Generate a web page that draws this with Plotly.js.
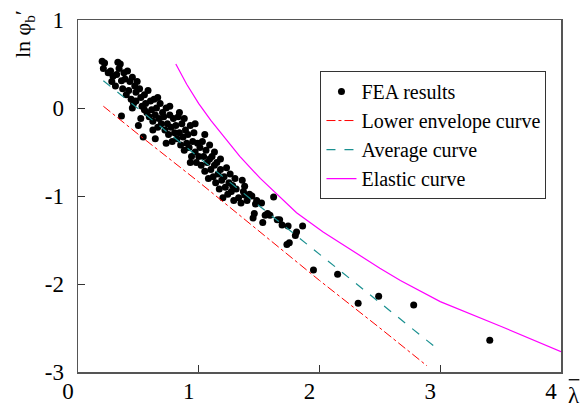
<!DOCTYPE html>
<html>
<head>
<meta charset="utf-8">
<script src="https://cdn.plot.ly/plotly-3.0.1.min.js"></script>
<style>html,body{margin:0;padding:0;background:#fff}#chart{width:587px;height:409px}</style>
</head>
<body>
<div id="chart"></div>
<script>
// FEA results (lambda-bar, ln phi'_b)
const feaLambda = [
 0.20,0.22,0.21,0.25,0.28,0.27,0.29,
 0.33,0.35,0.34,0.32,0.36,0.31,0.38,0.37,0.39,0.36,0.40,
 0.41,0.43,0.42,0.45,0.44,0.47,0.46,0.48,0.49,0.50,0.45,0.48,
 0.51,0.52,0.53,0.54,0.55,0.56,0.57,0.58,0.59,0.52,0.55,0.60,
 0.61,0.62,0.63,0.64,0.65,0.66,0.67,0.68,0.69,0.70,0.62,0.66,0.64,
 0.71,0.72,0.73,0.74,0.75,0.76,0.77,0.78,0.79,0.80,0.73,0.76,
 0.81,0.82,0.83,0.84,0.85,0.86,0.87,0.88,0.89,0.90,0.84,0.88,
 0.91,0.92,0.93,0.94,0.95,0.96,0.97,0.98,0.99,1.00,0.93,0.97,
 1.01,1.02,1.03,1.04,1.05,1.06,1.07,1.08,1.09,1.10,1.05,1.09,
 1.11,1.12,1.13,1.14,1.15,1.16,1.17,1.18,1.19,1.20,1.13,1.18,
 1.21,1.22,1.23,1.24,1.25,1.26,1.27,1.28,1.29,1.30,
 1.31,1.33,1.35,1.36,1.37,1.38,1.38,1.40,
 1.42,1.44,1.45,1.46,1.47,1.48,
 1.52,1.53,1.55,1.57,1.59,1.62,
 1.65,1.67,1.69,1.73,1.75,1.74,1.81,1.80,1.86,
 1.95,2.15,2.32,2.49,2.78,3.41
];
const feaLnPhi = [
 0.53,0.51,0.45,0.40,0.30,0.42,0.36,
 0.52,0.50,0.45,0.38,0.31,0.25,0.40,0.22,0.33,-0.09,0.15,
 0.42,0.30,0.20,0.35,0.10,0.25,0.05,0.18,0.30,-0.20,0.00,0.08,
 0.22,0.12,0.02,-0.33,0.15,0.05,-0.05,0.20,-0.10,-0.12,-0.02,0.08,
 -0.02,-0.15,0.10,-0.08,0.00,-0.22,-0.12,0.05,-0.18,-0.05,-0.25,0.12,-0.35,
 -0.10,-0.25,0.00,-0.18,-0.30,-0.08,-0.22,-0.38,-0.12,-0.28,-0.40,0.02,
 -0.20,-0.35,-0.10,-0.28,-0.42,-0.18,-0.33,-0.48,-0.25,-0.40,-0.05,-0.12,
 -0.30,-0.45,-0.20,-0.55,-0.38,-0.28,-0.50,-0.62,-0.40,-0.55,-0.62,-0.18,
 -0.45,-0.65,-0.38,-0.55,-0.72,-0.48,-0.62,-0.80,-0.58,-0.70,-0.30,-0.42,
 -0.55,-0.78,-0.65,-0.85,-0.62,-0.75,-0.92,-0.70,-0.82,-1.02,-0.50,-0.58,
 -0.78,-0.90,-0.68,-0.98,-0.85,-0.75,-0.95,-0.88,-1.05,-0.80,
 -0.92,-1.02,-1.08,-0.82,-0.95,-0.89,-0.99,-1.05,
 -0.98,-1.00,-1.25,-1.20,-1.09,-1.05,
 -1.08,-1.30,-1.22,-1.20,-1.22,-1.01,
 -1.27,-1.27,-1.33,-1.55,-1.53,-1.34,-1.41,-1.45,-1.34,
 -1.84,-1.89,-2.22,-2.14,-2.24,-2.64
];
// Lower envelope curve
const lowerLambda = [0.21, 0.5, 1.0, 1.5, 2.0, 2.5, 2.89];
const lowerLnPhi  = [0.02, -0.30, -0.84, -1.40, -1.96, -2.50, -2.93];
// Average curve
const avgLambda = [0.21, 0.5, 1.0, 1.5, 2.0, 2.5, 2.97];
const avgLnPhi  = [0.31, -0.01, -0.56, -1.11, -1.66, -2.21, -2.73];
// Elastic curve
const elasLambda = [0.81, 0.9, 1.0, 1.1, 1.2, 1.34, 1.51, 1.7, 1.81, 2.03, 2.2, 2.5, 2.67, 3.0, 3.5, 4.0];
const elasLnPhi  = [0.50, 0.27, 0.05, -0.14, -0.31, -0.55, -0.80, -1.05, -1.19, -1.41, -1.56, -1.82, -1.96, -2.20, -2.48, -2.77];

const xTicks = [0, 1, 2, 3, 4];
const yTicks = [-3, -2, -1, 0, 1];

const serif = "'Liberation Serif', serif";

const traces = [
  {x: feaLambda, y: feaLnPhi, type: 'scatter', mode: 'markers', name: 'FEA results',
   marker: {color: '#000', size: 7}},
  {x: lowerLambda, y: lowerLnPhi, type: 'scatter', mode: 'lines', name: 'Lower envelope curve',
   line: {color: '#ff0000', width: 1, dash: 'dashdot'}},
  {x: avgLambda, y: avgLnPhi, type: 'scatter', mode: 'lines', name: 'Average curve',
   line: {color: '#1a9090', width: 1.2, dash: 'dash'}},
  {x: elasLambda, y: elasLnPhi, type: 'scatter', mode: 'lines', name: 'Elastic curve',
   line: {color: '#ff00ff', width: 1.2}}
];

const axisCommon = {
  showgrid: false, zeroline: false, showline: true, mirror: true,
  linecolor: '#555', linewidth: 1.5, ticks: 'inside', ticklen: 7, tickcolor: '#333', tickwidth: 1,
  tickfont: {family: serif, size: 23, color: '#000'}
};

const layout = {
  width: 587, height: 409,
  margin: {l: 78, r: 26, t: 20, b: 37},
  paper_bgcolor: '#fff', plot_bgcolor: '#fff',
  showlegend: true,
  legend: {x: 0.502, y: 0.855, xanchor: 'left', yanchor: 'top',
           bordercolor: '#333', borderwidth: 1, bgcolor: '#fff',
           font: {family: serif, size: 20, color: '#000'}, tracegroupgap: 0},
  xaxis: Object.assign({}, axisCommon, {range: [0, 4], tickvals: xTicks, ticktext: xTicks.map(String), ticklabelstandoff: -2, ticklabelshift: -10}),
  yaxis: Object.assign({}, axisCommon, {range: [-3, 1], tickvals: yTicks, ticktext: yTicks.map(String), ticklabelstandoff: 8}),
  annotations: [
    {xref: 'paper', yref: 'paper', x: -0.145, y: 1.034, xanchor: 'left', yanchor: 'top',
     text: 'ln φ<sub>b</sub>′', showarrow: false,
     textangle: -90, font: {family: serif, size: 22, color: '#000'}},
    {xref: 'paper', yref: 'paper', x: 1.026, y: -0.068, text: 'λ', showarrow: false,
     xanchor: 'center', yanchor: 'middle',
     font: {family: serif, size: 23, color: '#000'}}
  ],
  shapes: [
    {type: 'line', xref: 'paper', yref: 'paper', x0: 1.016, x1: 1.038, y0: -0.022, y1: -0.022,
     line: {color: '#000', width: 1.3}}
  ]
};

Plotly.newPlot('chart', traces, layout, {displayModeBar: false, staticPlot: true});
</script>
</body>
</html>
